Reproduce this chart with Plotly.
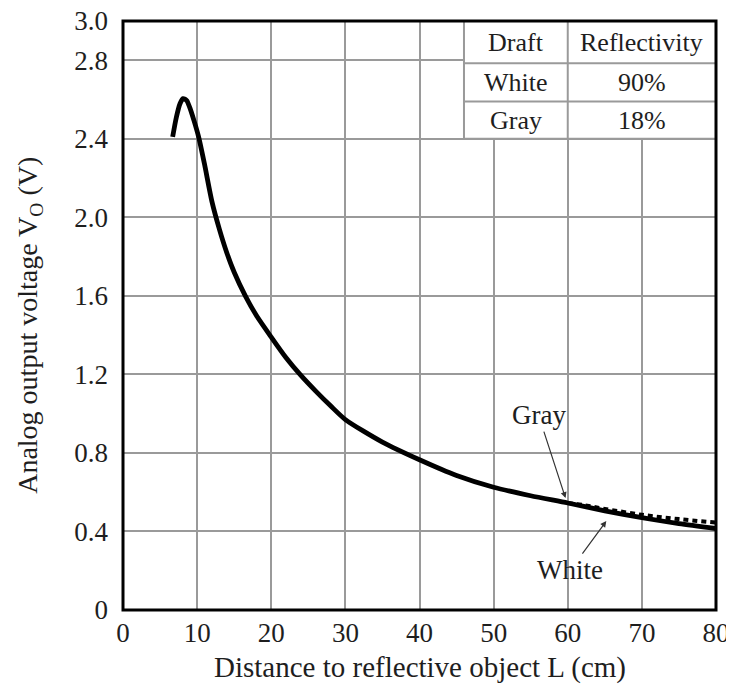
import plotly.graph_objects as go

# Data
distance_white = [6.7, 7.2, 7.7, 8.1, 8.6, 9.0, 9.6, 10.2, 11.0, 12.0, 13.0, 14.0, 15.0, 16.5,
                  18.0, 20.0, 22.0, 24.0, 26.0, 28.0, 30.0, 35.0, 40.0, 45.0, 50.0, 55.0,
                  60.0, 65.0, 70.0, 75.0, 80.0]
voltage_white = [2.41, 2.51, 2.58, 2.605, 2.595, 2.56, 2.49, 2.41, 2.27, 2.08, 1.94, 1.82, 1.72, 1.60,
                 1.50, 1.39, 1.285, 1.195, 1.115, 1.04, 0.97, 0.855, 0.765, 0.685, 0.625, 0.582,
                 0.545, 0.505, 0.47, 0.44, 0.415]
distance_gray = [60.0, 62.0, 65.0, 70.0, 75.0, 80.0]
voltage_gray = [0.545, 0.535, 0.515, 0.485, 0.463, 0.445]

x_ticks = [0, 10, 20, 30, 40, 50, 60, 70, 80]
y_ticks = [0, 0.4, 0.8, 1.2, 1.6, 2.0, 2.4, 2.8, 3.0]
y_tick_labels = ["0", "0.4", "0.8", "1.2", "1.6", "2.0", "2.4", "2.8", "3.0"]

table_header = ["Draft", "Reflectivity"]
table_rows = [["White", "90%"], ["Gray", "18%"]]

x_title = "Distance to reflective object L (cm)"
y_title = "Analog output voltage V<sub>O</sub> (V)"

FONT = "Liberation Serif, Times New Roman, serif"
GRID = "#9a9a9a"
TXT = "#1e1e1e"

fig = go.Figure()
fig.add_trace(go.Scatter(x=distance_gray, y=voltage_gray, mode="lines",
                         line=dict(color="black", width=4, dash="5px,4px", shape="spline"),
                         hoverinfo="skip", showlegend=False))
fig.add_trace(go.Scatter(x=distance_white, y=voltage_white, mode="lines",
                         line=dict(color="black", width=4.8, shape="spline", smoothing=0.7),
                         showlegend=False))

# Table (covers the grid in the upper right)
tx0, tx1, txm = 46, 80, 60
ty0, ty1 = 2.4, 3.0
row_lines = [2.785, 2.59]
shapes = [dict(type="rect", xref="x", yref="y", x0=tx0, x1=tx1, y0=ty0, y1=ty1,
               fillcolor="white", line=dict(color=GRID, width=2), layer="above")]
shapes.append(dict(type="line", xref="x", yref="y", x0=txm, x1=txm, y0=ty0, y1=ty1,
                   line=dict(color=GRID, width=2), layer="above"))
for ry in row_lines:
    shapes.append(dict(type="line", xref="x", yref="y", x0=tx0, x1=tx1, y0=ry, y1=ry,
                       line=dict(color=GRID, width=2), layer="above"))
# outer frame
shapes.append(dict(type="rect", xref="x domain", yref="y domain", x0=0, x1=1, y0=0, y1=1,
                   line=dict(color="black", width=3), layer="above"))

cell_y = [(ty1 + row_lines[0]) / 2, (row_lines[0] + row_lines[1]) / 2, (row_lines[1] + ty0) / 2]
annotations = []
rows = [table_header] + table_rows
for i, row in enumerate(rows):
    annotations.append(dict(x=(tx0 + txm) / 2, y=cell_y[i], xref="x", yref="y", text=row[0],
                            showarrow=False, font=dict(family=FONT, size=26, color=TXT)))
    annotations.append(dict(x=(txm + tx1) / 2, y=cell_y[i], xref="x", yref="y", text=row[1],
                            showarrow=False, font=dict(family=FONT, size=26, color=TXT)))

annotations.append(dict(x=59.7, y=0.57, xref="x", yref="y", text="Gray", showarrow=True,
                        ax=-27, ay=-83, arrowhead=2, arrowsize=1, arrowwidth=1.2,
                        arrowcolor="#333", font=dict(family=FONT, size=27, color=TXT)))
annotations.append(dict(x=65.2, y=0.453, xref="x", yref="y", text="White", showarrow=True,
                        ax=-36, ay=49, arrowhead=2, arrowsize=1, arrowwidth=1.2,
                        arrowcolor="#333", font=dict(family=FONT, size=27, color=TXT)))

# axis titles as annotations for exact placement
annotations.append(dict(x=0.5, y=-0.098, xref="paper", yref="paper", text=x_title,
                        showarrow=False, xanchor="center", yanchor="middle",
                        font=dict(family=FONT, size=29, color=TXT)))
annotations.append(dict(x=-0.157, y=0.484, xref="paper", yref="paper", text=y_title,
                        showarrow=False, xanchor="center", yanchor="middle", textangle=-90,
                        font=dict(family=FONT, size=28, color=TXT)))

fig.update_layout(
    width=726, height=677,
    margin=dict(l=115, r=18, t=13, b=75, autoexpand=False),
    paper_bgcolor="white", plot_bgcolor="white",
    font=dict(family=FONT, size=27, color=TXT),
    shapes=shapes, annotations=annotations,
    xaxis=dict(range=[0, 80], tickvals=x_ticks, showgrid=True, gridcolor=GRID, gridwidth=2,
               zeroline=False, showline=False, ticks="", automargin=False,
               ticklabelstandoff=4, ticklabeloverflow="allow",
               tickfont=dict(family=FONT, size=27, color=TXT)),
    yaxis=dict(range=[0, 3.0], tickvals=y_ticks, ticktext=y_tick_labels, showgrid=True,
               gridcolor=GRID, gridwidth=2, zeroline=False, showline=False, ticks="",
               automargin=False, ticklabelstandoff=14, ticklabeloverflow="allow",
               tickfont=dict(family=FONT, size=27, color=TXT)),
)

fig.write_html("out.html")
